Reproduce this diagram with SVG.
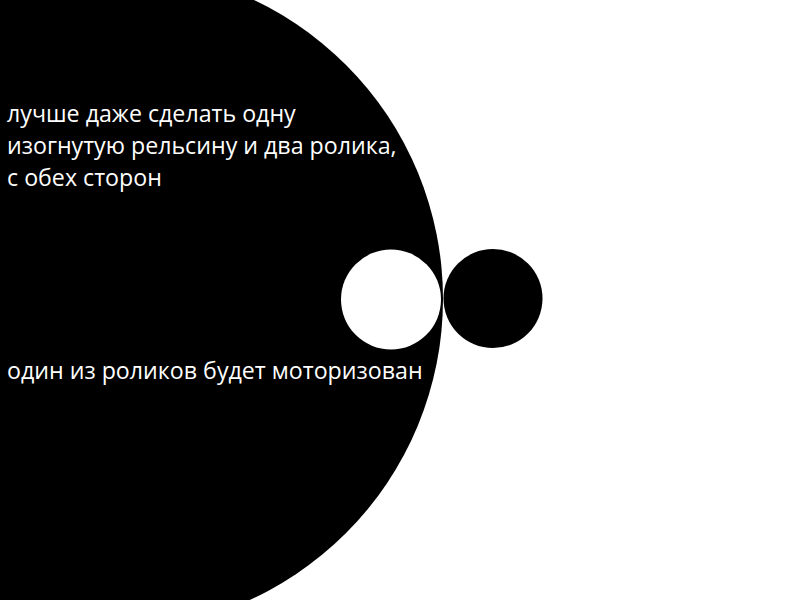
<svg xmlns="http://www.w3.org/2000/svg" width="800" height="600" viewBox="0 0 800 600">
<style>
.t{font-family:"Open Sans","DejaVu Sans",sans-serif;font-size:23.2px;fill:#fff}
</style>
<rect width="800" height="600" fill="#fff"/>
<g id="big-circle"><circle cx="112" cy="299" r="331" fill="#000"/></g>
<g id="roller-left"><circle cx="391" cy="299.5" r="50" fill="#fff"/></g>
<g id="roller-right"><circle cx="493" cy="298.5" r="49.5" fill="#000"/></g>
<g id="text-top">
<text class="t" x="7" y="122">лучше даже сделать одну</text>
<text class="t" x="7" y="154">изогнутую рельсину и два ролика,</text>
<text class="t" x="7" y="186">с обех сторон</text>
</g>
<g id="text-bottom"><text class="t" x="7" y="379">один из роликов будет моторизован</text></g>
</svg>
